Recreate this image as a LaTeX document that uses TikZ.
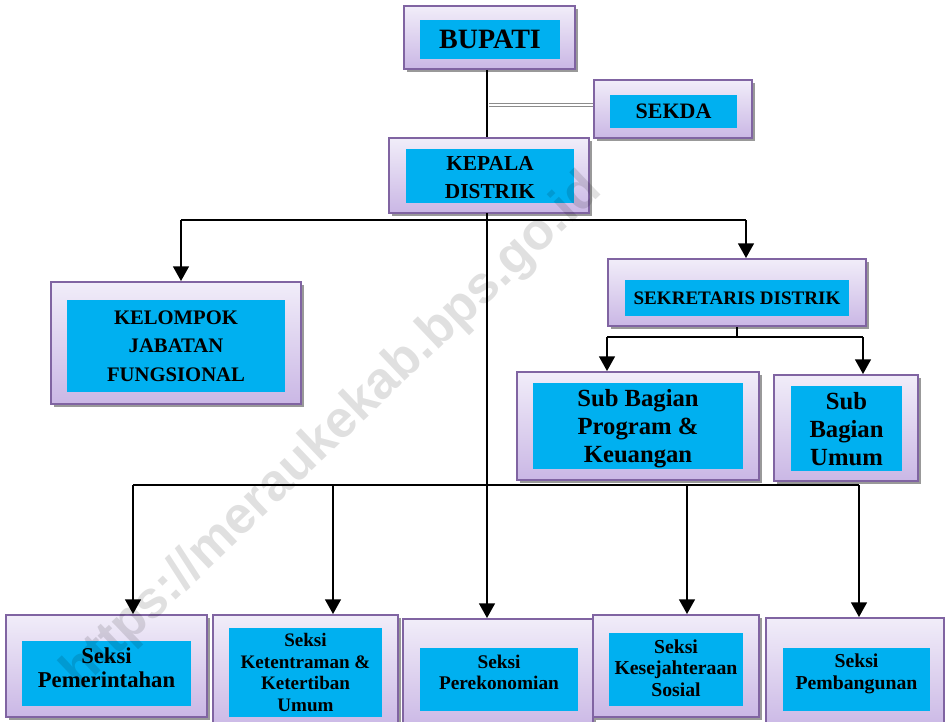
\documentclass[tikz,border=0pt]{standalone}
\usepackage{fontspec}
\setmainfont{Liberation Serif}
\newfontfamily\wmfont{Liberation Sans}
\usetikzlibrary{fit,shadows,arrows.meta}
\definecolor{lavtop}{HTML}{F1EDF9}
\definecolor{lavbot}{HTML}{CAB7E5}
\definecolor{boxborder}{HTML}{8064A2}
\definecolor{cyanfill}{HTML}{00B0F0}
\tikzset{
  outerbox/.style={draw=boxborder, line width=1.3pt, top color=lavtop, bottom color=lavbot, inner sep=0pt,
    drop shadow={shadow xshift=2.5pt, shadow yshift=-2.5pt, fill=black!40, opacity=1}},
  innerbox/.style={fill=cyanfill, draw=none, inner sep=0pt},
  boxtext/.style={inner sep=0pt, align=center, text=black},
  conn/.style={line width=2.2pt, black},
  arr/.style={line width=2.2pt, black, -{Triangle[width=11.5pt,length=11pt]}},
  fs/.style 2 args={font=\bfseries\fontsize{#1}{#2}\selectfont}
}
% name, x1, y1, x2, y2, font style, text, text raise (px)
\newcommand\ibox[8]{%
  \node[innerbox, minimum width={(#4-#2)*0.75pt}, minimum height={(#5-#3)*0.75pt}] (#1) at ({(#2+#4)/2},{(#3+#5)/2}) {};
  \node[boxtext, #6, yshift={#8*0.75pt}] (#1T) at (#1.center) {#7};}
\begin{document}
\begin{tikzpicture}[x=0.75pt,y=-0.75pt]
\useasboundingbox (0,0) rectangle (945,721);
\clip (0,0) rectangle (945,721);
\fill[white] (0,0) rectangle (945,721);

% boxes
\node[outerbox, fit={(404,6)(575,69)}] (bupatiO) {};
\ibox{bupati}{420}{20}{560}{59}{fs={21}{25}}{BUPATI}{0}

\node[outerbox, fit={(594,80)(752,138)}] (sekdaO) {};
\ibox{sekda}{610}{95}{737}{128}{fs={16.5}{20}}{SEKDA}{0}

\node[outerbox, fit={(389,138)(589,213)}] (kepalaO) {};
\ibox{kepala}{406}{149}{574}{203}{fs={16}{21}}{KEPALA\\DISTRIK}{-2}

\node[outerbox, fit={(51,282)(301,404)}] (kelO) {};
\ibox{kel}{67}{300}{285}{392}{fs={15.5}{21.5}}{KELOMPOK\\JABATAN\\FUNGSIONAL}{0}

\node[outerbox, fit={(608,259)(866,326)}] (sekO) {};
\ibox{sek}{625}{280}{849}{316}{fs={14.3}{18}}{SEKRETARIS DISTRIK}{0}

\node[outerbox, fit={(517,372)(759,480)}] (sbpO) {};
\ibox{sbp}{533}{383}{743}{469}{fs={18.5}{21}}{Sub Bagian\\Program \&\\Keuangan}{-3}

\node[outerbox, fit={(774,375)(918,481)}] (sbuO) {};
\ibox{sbu}{791}{386}{902}{471}{fs={18.5}{21}}{Sub\\Bagian\\Umum}{-1}

\node[outerbox, fit={(6,615)(207,717)}] (pemO) {};
\ibox{pem}{22}{641}{191}{706}{fs={17}{18.2}}{Seksi\\Pemerintahan}{6}

\node[outerbox, fit={(213,615)(398,730)}] (ketO) {};
\ibox{ket}{229}{628}{382}{717}{fs={14.3}{16.3}}{Seksi\\Ketentraman \&\\Ketertiban\\Umum}{0}

\node[outerbox, fit={(403,619)(593,730)}] (perO) {};
\ibox{per}{420}{648}{578}{711}{fs={14.5}{16.3}}{Seksi\\Perekonomian}{7}

\node[outerbox, fit={(593,615)(759,717)}] (kesO) {};
\ibox{kes}{609}{633}{743}{706}{fs={14.8}{16.3}}{Seksi\\Kesejahteraan\\Sosial}{1.5}

\node[outerbox, fit={(766,618)(944,730)}] (pbgO) {};
\ibox{pbg}{783}{648}{930}{711}{fs={14.8}{16.3}}{Seksi\\Pembangunan}{6}

% connectors
\coordinate (sd) at (489,105);
\draw[draw=black!45, line width=0.7pt, double=white, double distance=1.6pt] (sd) -- (sekdaO.west |- sd);
\draw[conn] (bupatiO.south -| 487,0) -- (kepalaO.north -| 487,0);

\coordinate (mtop) at (487,213);
\draw[arr] (mtop) -- (mtop |- perO.north);

\coordinate (j1) at (181,220);
\coordinate (j2) at (746,220);
\draw[conn] (j1) -- (j2);
\draw[arr] (j1) -- (j1 |- kelO.north);
\draw[arr] (j2) -- (j2 |- sekO.north);

\coordinate (j3) at (737,337);
\coordinate (j4) at (607,337);
\coordinate (j5) at (863,337);
\draw[conn] (sekO.south -| j3) -- (j3);
\draw[conn] (j4) -- (j5);
\draw[arr] (j4) -- (j4 |- sbpO.north);
\draw[arr] (j5) -- (j5 |- sbuO.north);

\coordinate (k1) at (133,485);
\coordinate (k2) at (333,485);
\coordinate (k4) at (687,485);
\coordinate (k5) at (859,485);
\draw[conn] (k1) -- (k5);
\draw[arr] (k1) -- (k1 |- pemO.north);
\draw[arr] (k2) -- (k2 |- ketO.north);
\draw[arr] (k4) -- (k4 |- kesO.north);
\draw[arr] (k5) -- (k5 |- pbgO.north);

% watermark
\node[rotate=43.6, text=black, opacity=0.12, font=\wmfont\bfseries\fontsize{39}{39}\selectfont, inner sep=0pt] (wm) at (333,432) {https://meraukekab.bps.go.id};
\end{tikzpicture}
\end{document}
